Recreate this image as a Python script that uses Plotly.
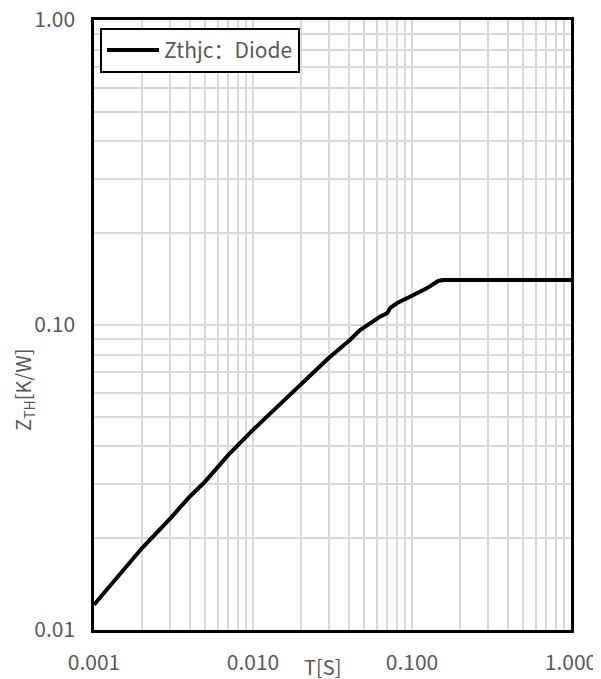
import plotly.graph_objects as go

# Data
t_s = [0.001, 0.002, 0.00301, 0.00401, 0.00498, 0.0070, 0.010, 0.0197, 0.0298,
       0.0407, 0.0471, 0.0629, 0.0700, 0.0728, 0.0802, 0.0971, 0.1237, 0.1463,
       0.157, 0.2, 0.3, 0.5, 0.7, 1.0]
zth = [0.0121, 0.01853, 0.0232, 0.0274, 0.0306, 0.0375, 0.0453, 0.0635, 0.0778,
       0.0893, 0.0963, 0.1065, 0.1095, 0.1135, 0.1178, 0.1238, 0.1319, 0.1394,
       0.1405, 0.1405, 0.1405, 0.1405, 0.1405, 0.1405]
series_name = "Zthjc：Diode"

x_major = [0.001, 0.01, 0.1, 1.0]
x_major_text = ["0.001", "0.010", "0.100", "1.000"]
y_major = [0.01, 0.1, 1.0]
y_major_text = ["0.01", "0.10", "1.00"]


def grid_ticks(majors, texts):
    vals, labs = [], []
    for i, m in enumerate(majors):
        vals.append(m)
        labs.append(texts[i])
        if i < len(majors) - 1:
            for k in range(2, 10):
                vals.append(m * k)
                labs.append(" ")
    return vals, labs


xv, xt = grid_ticks(x_major, x_major_text)
yv, yt = grid_ticks(y_major, y_major_text)

FONT = "Noto Sans CJK SC"
GRAY = "#595959"
TICK_SIZE = 21

fig = go.Figure()
fig.add_trace(go.Scatter(x=t_s, y=zth, mode="lines", name=series_name,
                         line=dict(color="black", width=4)))

fig.update_layout(
    width=593, height=671,
    margin=dict(l=86, r=30, t=12, b=49, autoexpand=False),
    paper_bgcolor="white", plot_bgcolor="white",
    font=dict(family=FONT, color=GRAY, size=TICK_SIZE),
    showlegend=True,
    legend=dict(x=0.0126, y=0.987, xanchor="left", yanchor="top",
                bgcolor="white", bordercolor="black", borderwidth=2,
                font=dict(family=FONT, size=21, color=GRAY), itemwidth=52),
)
fig.update_xaxes(type="log", range=[-3, 0], tickvals=xv, ticktext=xt,
                 automargin=False, tickangle=0,
                 showgrid=True, gridcolor="#d9d9d9", gridwidth=2,
                 showline=True, linecolor="black", linewidth=2.5, mirror=True,
                 ticks="", ticklabelstandoff=12, zeroline=False,
                 tickfont=dict(family=FONT, size=TICK_SIZE, color=GRAY))
fig.update_yaxes(type="log", range=[-2, 0], tickvals=yv, ticktext=yt,
                 automargin=False, tickangle=0,
                 showgrid=True, gridcolor="#d9d9d9", gridwidth=2,
                 showline=True, linecolor="black", linewidth=2.5, mirror=True,
                 ticks="", ticklabelstandoff=12, zeroline=False,
                 tickfont=dict(family=FONT, size=TICK_SIZE, color=GRAY))

fig.add_annotation(text="T[S]", xref="paper", yref="paper",
                   x=(322 - 94) / 477, y=-(666 - 630) / 610,
                   xanchor="center", yanchor="middle",
                   showarrow=False, font=dict(family=FONT, size=20, color=GRAY))
fig.add_annotation(text="Z<sub>TH</sub>[K/W]", xref="paper", yref="paper",
                   x=-(94 - 23) / 477, y=(630 - 390) / 610, textangle=-90,
                   xanchor="center", yanchor="middle",
                   showarrow=False, font=dict(family=FONT, size=20, color=GRAY))

fig.write_html("out.html")
